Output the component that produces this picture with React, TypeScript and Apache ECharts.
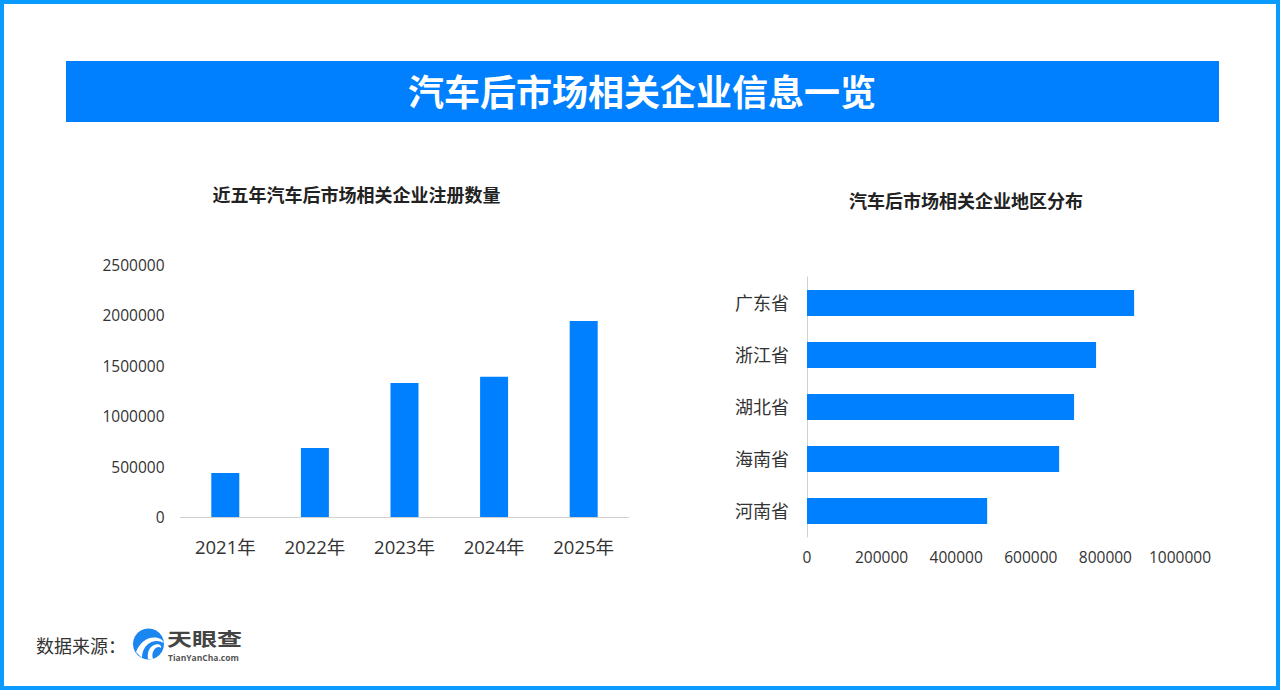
import { useEffect, useRef } from "react";
import * as echarts from "echarts";

const FONT = '"Open Sans", "Noto Sans CJK SC", sans-serif';
const BLUE = "#0080ff";

const years = ["2021年", "2022年", "2023年", "2024年", "2025年"];
const registered = [436000, 684000, 1330000, 1392000, 1945000];

const provinces = ["广东省", "浙江省", "湖北省", "海南省", "河南省"];
const provinceCounts = [877000, 775000, 716000, 676000, 483000];

// logo mark, drawn in a 32x32 box
echarts.graphic.registerShape(
  "tycSwoosh",
  echarts.graphic.extendPath(
    "M3 24 C7 14 15 8 25 10 C29 11 30 13 31 15 C26 12 19 12 14 17 C10 21 9 26 9 30 Z M15 31 C14 25 16 19 21 17 C25 15 29 17 28 20 C26 18 23 19 21 22 C19 25 19 28 20 31 Z",
    {}
  )
);

const plainNumber = (value: number) => String(value);

export default function App() {
  const chartRef = useRef<HTMLDivElement | null>(null);

  useEffect(() => {
    document.body.style.margin = "0";
    if (!chartRef.current) return;
    const myChart = echarts.init(chartRef.current, null, { renderer: "svg" });

    const option = {
      animation: false,
      backgroundColor: "#ffffff",
      textStyle: { fontFamily: FONT },
      title: [
        {
          text: "近五年汽车后市场相关企业注册数量",
          left: 351.5,
          top: 190,
          textAlign: "center",
          textVerticalAlign: "middle",
          textStyle: { fontSize: 18, fontWeight: "bold", color: "#222", fontFamily: FONT },
        },
        {
          text: "汽车后市场相关企业地区分布",
          left: 961,
          top: 196,
          textAlign: "center",
          textVerticalAlign: "middle",
          textStyle: { fontSize: 18, fontWeight: "bold", color: "#222", fontFamily: FONT },
        },
      ],
      grid: [
        { left: 180.5, top: 265, width: 448, height: 252 },
        { left: 807, top: 277, width: 373, height: 260 },
      ],
      xAxis: [
        {
          type: "category",
          gridIndex: 0,
          data: years,
          axisLine: { lineStyle: { color: "#d0d0d0", width: 1 } },
          axisTick: { show: false },
          axisLabel: { fontSize: 18.5, color: "#333", margin: 20, fontFamily: FONT },
        },
        {
          type: "value",
          gridIndex: 1,
          min: 0,
          max: 1000000,
          interval: 200000,
          axisLine: { show: false },
          axisTick: { show: false },
          splitLine: { show: false },
          axisLabel: {
            fontSize: 15.5,
            color: "#333",
            margin: 12,
            fontFamily: FONT,
            formatter: plainNumber,
          },
        },
      ],
      yAxis: [
        {
          type: "value",
          gridIndex: 0,
          min: 0,
          max: 2500000,
          interval: 500000,
          axisLine: { show: false },
          axisTick: { show: false },
          splitLine: { show: false },
          axisLabel: {
            fontSize: 15.5,
            color: "#333",
            margin: 16,
            fontFamily: FONT,
            formatter: plainNumber,
          },
        },
        {
          type: "category",
          gridIndex: 1,
          data: provinces,
          inverse: true,
          axisLine: { lineStyle: { color: "#d0d0d0", width: 1 } },
          axisTick: { show: false },
          axisLabel: { fontSize: 18, color: "#333", margin: 18, fontFamily: FONT },
        },
      ],
      series: [
        {
          type: "bar",
          xAxisIndex: 0,
          yAxisIndex: 0,
          data: registered,
          barWidth: 28,
          itemStyle: { color: BLUE },
        },
        {
          type: "bar",
          xAxisIndex: 1,
          yAxisIndex: 1,
          data: provinceCounts,
          barWidth: 26,
          itemStyle: { color: BLUE },
        },
      ],
      graphic: [
        {
          type: "rect",
          z: -1,
          shape: { x: 2, y: 2, width: 1276, height: 686 },
          style: { fill: "none", stroke: "#0a9bff", lineWidth: 4 },
        },
        {
          type: "rect",
          z: 1,
          shape: { x: 66, y: 61, width: 1153, height: 61 },
          style: { fill: BLUE },
        },
        {
          type: "text",
          z: 2,
          x: 642,
          y: 92,
          style: {
            text: "汽车后市场相关企业信息一览",
            fill: "#ffffff",
            font: `bold 36px ${FONT}`,
            textAlign: "center",
            textVerticalAlign: "middle",
          },
        },
        {
          type: "text",
          x: 36,
          y: 646,
          style: {
            text: "数据来源：",
            fill: "#333",
            font: `18px ${FONT}`,
            textAlign: "left",
            textVerticalAlign: "middle",
          },
        },
        {
          type: "circle",
          shape: { cx: 148.5, cy: 644, r: 15.5 },
          style: { fill: "#1a86f0" },
        },
        {
          type: "tycSwoosh",
          x: 133,
          y: 628,
          style: { fill: "#ffffff" },
        },
        {
          type: "text",
          x: 167,
          y: 638.5,
          scaleY: 0.75,
          style: {
            text: "天眼查",
            fill: "#444",
            font: `bold 25px ${FONT}`,
            textAlign: "left",
            textVerticalAlign: "middle",
          },
        },
        {
          type: "text",
          x: 168,
          y: 657.5,
          style: {
            text: "TianYanCha.com",
            fill: "#555",
            font: `bold 8.5px ${FONT}`,
            textAlign: "left",
            textVerticalAlign: "middle",
          },
        },
      ],
    };

    myChart.setOption(option);

    return () => {
      myChart.dispose();
    };
  }, []);

  return <div ref={chartRef} style={{ width: 1280, height: 690 }} />;
}
